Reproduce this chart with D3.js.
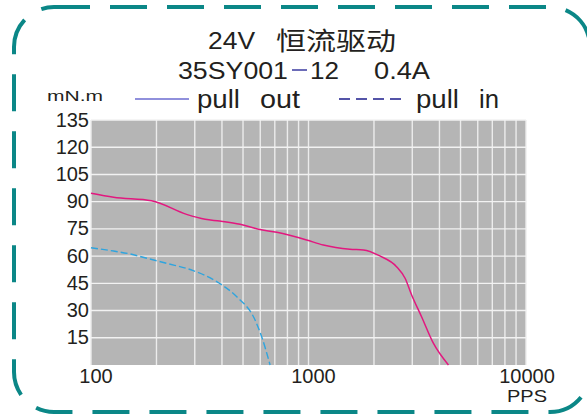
<!DOCTYPE html>
<html>
<head>
<meta charset="utf-8">
<script src="https://cdn.jsdelivr.net/npm/d3@7"></script>
<style>
  html, body { margin: 0; padding: 0; background: #ffffff; }
  svg { display: block; }
  text { font-family: "Liberation Sans", Arial, sans-serif; fill: #231f20; }
  .cjk { font-family: "Noto Sans CJK SC", sans-serif; }
</style>
</head>
<body>
<script>
// ---- data ----
const pullOutPPS    = [100, 127, 190, 275, 335, 390, 485, 590, 715, 980, 1170, 1550, 1790, 2130, 2540, 2780, 2980, 3310, 3750, 4400];
const pullOutTorque = [94.6, 92.4, 90.5, 83.0, 80.3, 79.3, 77.5, 74.8, 73.1, 68.9, 66.1, 63.8, 63.4, 60.1, 54.2, 47.8, 38.6, 26.6, 12.0, 0];
const pullInPPS     = [100, 127, 151, 177, 223, 295, 385, 468, 568, 609, 666];
const pullInTorque  = [64.6, 62.8, 61.2, 59.1, 56.0, 52.0, 45.4, 37.6, 24.8, 15.6, 0];
const yTickValues   = [15, 30, 45, 60, 75, 90, 105, 120, 135];
const xTickValues   = [100, 1000, 10000];
const xGridValues   = [100,200,300,400,500,600,700,800,900,1000,2000,3000,4000,5000,6000,7000,8000,9000,10000];
const yGridValues   = [0, 15, 30, 45, 60, 75, 90, 105, 120, 135];
const yUnit = "mN.m";
const xUnit = "PPS";

const W = 587, H = 414;
const svg = d3.select("body").append("svg").attr("width", W).attr("height", H);

// ---- border ----
(function(){
  const x0 = 14, x1 = 590, y0 = 7, y1 = 412, r = 40;
  const p = d3.path();
  p.moveTo(x0 + r, y0);
  p.lineTo(x1 - r, y0);
  p.arcTo(x1, y0, x1, y0 + r, r);
  p.lineTo(x1, y1 - r);
  p.arcTo(x1, y1, x1 - r, y1, r);
  p.lineTo(x0 + r, y1);
  p.arcTo(x0, y1, x0, y1 - r, r);
  p.lineTo(x0, y0 + r);
  p.arcTo(x0, y0, x0 + r, y0, r);
  svg.append("path").attr("d", p.toString())
    .attr("fill", "none").attr("stroke", "#0b8787").attr("stroke-width", 4)
    .attr("stroke-dasharray", "37 20").attr("stroke-dashoffset", 1);
})();

// ---- scales ----
const plot = {left: 91, right: 526, top: 120, bottom: 365};
const x = d3.scaleLog().domain([100, 10000]).range([plot.left, plot.right]);
const y = d3.scaleLinear().domain([0, 135]).range([plot.bottom, plot.top]);

// plot background
svg.append("rect").attr("x", plot.left).attr("y", plot.top)
  .attr("width", plot.right - plot.left).attr("height", plot.bottom - plot.top)
  .attr("fill", "#b5b5b5");

// grid
const g = svg.append("g");
g.selectAll(".vg").data(xGridValues).enter().append("line")
  .attr("x1", d => x(d)).attr("x2", d => x(d))
  .attr("y1", plot.top).attr("y2", plot.bottom)
  .attr("stroke", "#ececec").attr("stroke-width", 1.4);
g.selectAll(".hg").data(yGridValues.filter(v => v > 0)).enter().append("line")
  .attr("x1", plot.left).attr("x2", plot.right)
  .attr("y1", d => y(d)).attr("y2", d => y(d))
  .attr("stroke", "#f2f2f2").attr("stroke-width", 1.4);

// y labels
svg.selectAll(".yl").data(yTickValues).enter().append("text")
  .attr("x", 89).attr("y", d => y(d) + 6.5)
  .attr("text-anchor", "end").attr("font-size", 20)
  .text(d => d);

// x labels
svg.selectAll(".xl").data(xTickValues).enter().append("text")
  .attr("x", d => Math.min(x(d) + 5, plot.right + 1)).attr("y", 383)
  .attr("text-anchor", "middle").attr("font-size", 20)
  .text(d => d);
svg.append("text").attr("x", 527).attr("y", 402).attr("text-anchor", "middle")
  .attr("font-size", 17).attr("textLength", 40).attr("lengthAdjust", "spacingAndGlyphs")
  .text(xUnit);

// curves
const line = d3.line().x(d => x(d[0])).y(d => y(d[1])).curve(d3.curveMonotoneX);
svg.append("path").datum(pullOutPPS.map((p, i) => [p, pullOutTorque[i]]))
  .attr("d", line).attr("fill", "none").attr("stroke", "#e2187f").attr("stroke-width", 1.5);
svg.append("path").datum(pullInPPS.map((p, i) => [p, pullInTorque[i]]))
  .attr("d", line).attr("fill", "none").attr("stroke", "#2fa4de").attr("stroke-width", 1.4)
  .attr("stroke-dasharray", "7 3");

// ---- titles ----
function t(str, xx, yy, size, len, cls) {
  const e = svg.append("text").attr("x", xx).attr("y", yy).attr("font-size", size).text(str);
  if (len) e.attr("textLength", len).attr("lengthAdjust", "spacingAndGlyphs");
  if (cls) e.attr("class", cls);
  return e;
}
t("24V", 208, 49, 24, 47);
t("恒流驱动", 276, 50, 25, 120, "cjk");
t("35SY001", 178, 79, 24, 110);
svg.append("line").attr("x1", 292).attr("x2", 307).attr("y1", 70).attr("y2", 70)
  .attr("stroke", "#3b3ba0").attr("stroke-width", 1.5);
t("12", 310, 79, 24, 29);
t("0.4A", 374, 79, 24, 56);

// legend
t(yUnit, 47, 101, 15, 56);
svg.append("line").attr("x1", 135).attr("x2", 189).attr("y1", 99).attr("y2", 99)
  .attr("stroke", "#6b6bd0").attr("stroke-width", 1.5);
t("pull", 197, 108, 25, 43);
t("out", 260, 108, 25, 40);
svg.append("line").attr("x1", 339).attr("x2", 401).attr("y1", 99).attr("y2", 99)
  .attr("stroke", "#1c1c8c").attr("stroke-width", 1.5).attr("stroke-dasharray", "11 6");
t("pull", 416, 108, 25, 43);
t("in", 479, 108, 25, 20);
</script>
</body>
</html>
